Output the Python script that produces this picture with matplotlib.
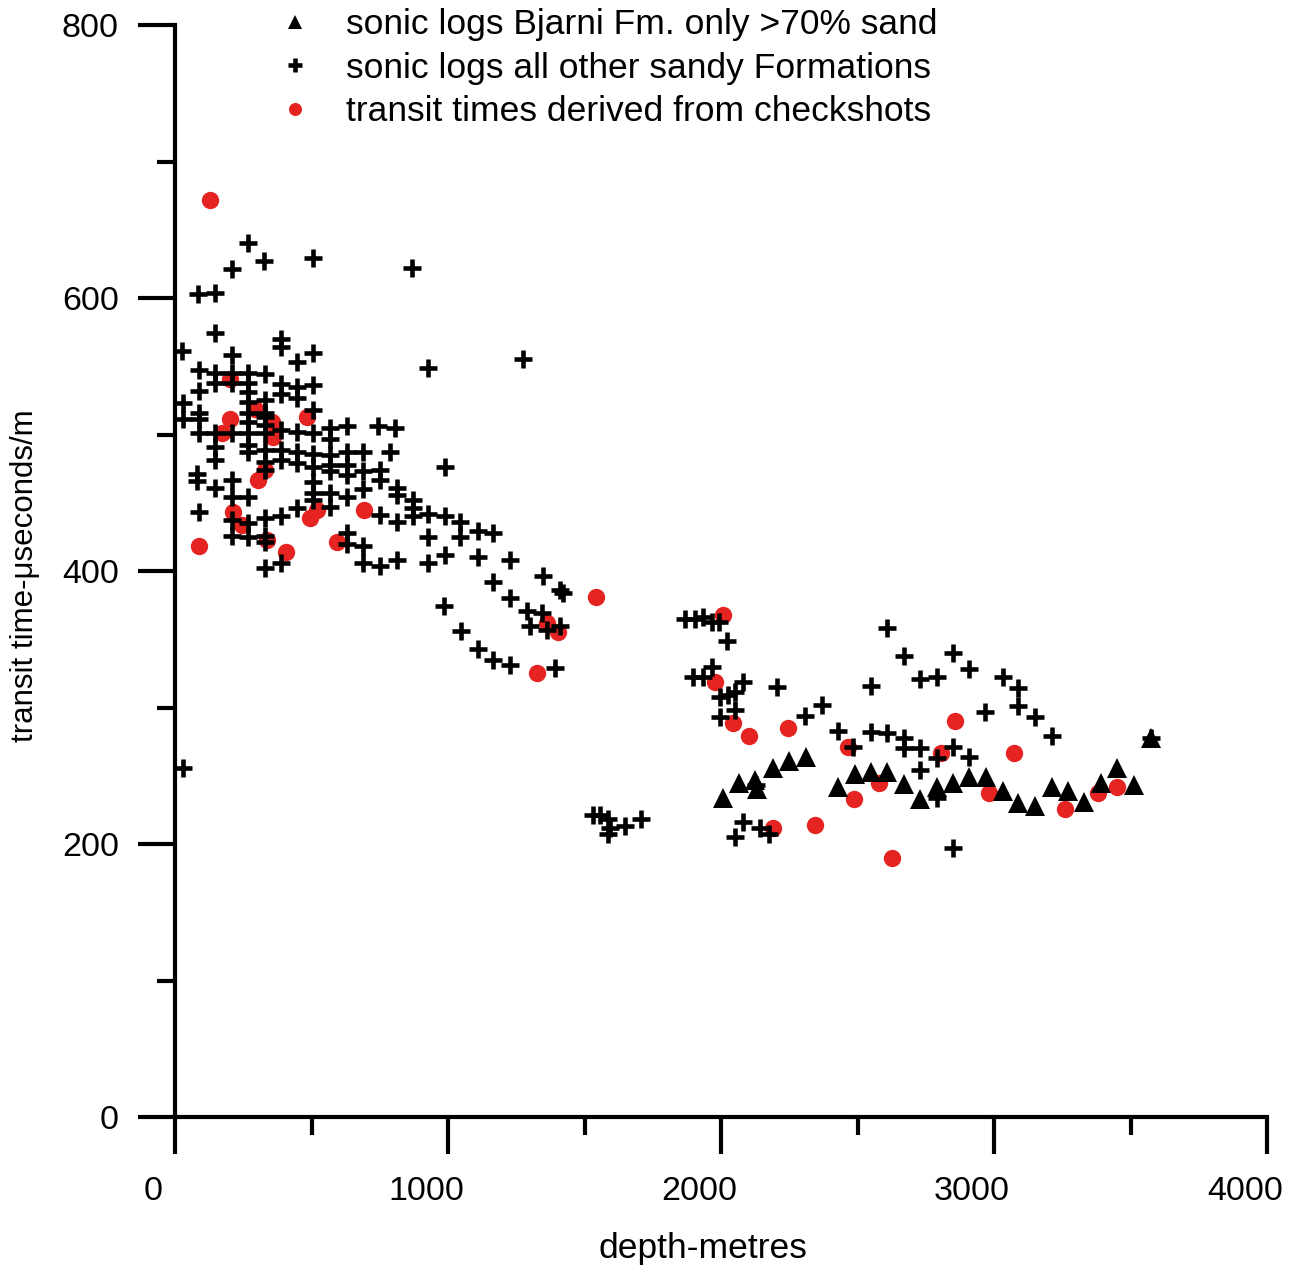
import numpy as np
import matplotlib
matplotlib.use("Agg")
import matplotlib.pyplot as plt
from matplotlib.transforms import ScaledTranslation

plt.rcParams['font.family'] = ['Liberation Sans', 'DejaVu Sans']

# transit times derived from checkshots (red dots)
check_depth = [130, 201, 293, 355, 484, 201, 172, 359, 330, 304, 212, 245, 520, 495,
               692, 88, 337, 407, 593, 1542, 1363, 1403, 1326, 2007, 1978, 2044, 2103,
               2245, 2465, 2487, 2190, 2344, 2579, 2857, 2806, 2982, 2626, 3073, 3260,
               3381, 3451]
check_tt = [672, 541, 519, 509, 513, 511, 501, 498, 474, 467, 443, 434, 445, 439,
            445, 418, 423, 414, 421, 381, 362, 355, 325, 368, 319, 289, 279,
            285, 271, 233, 212, 214, 245, 290, 267, 237, 190, 267, 226,
            237, 242]

# sonic logs, Bjarni Fm. only >70% sand (triangles)
bjarni_depth = [2007, 2066, 2125, 2132, 2190, 2249, 2311, 2429, 2491, 2549, 2608, 2670,
                2729, 2791, 2850, 2908, 2971, 3033, 3088, 3150, 3212, 3271, 3330, 3392,
                3451, 3513, 3575]
bjarni_tt = [234, 245, 247, 240, 256, 261, 264, 242, 251, 253, 253, 244,
             233, 242, 245, 249, 249, 239, 230, 228, 242, 239, 231, 245,
             256, 243, 278]

# sonic logs, all other sandy formations (plus signs)
other_depth = [267, 326, 505, 868, 209, 84, 147, 147, 25, 388, 388, 505, 447, 209, 927,
               88, 147, 209, 267, 330, 88, 147, 209, 267, 267, 388, 388, 447, 447, 505,
               29, 267, 330, 88, 29, 505, 267, 330, 88, 267, 330, 630, 744, 806, 568,
               88, 147, 209, 267, 330, 388, 447, 505,
               147, 147, 267, 267, 330, 330, 330, 330, 388, 388, 447, 447,
               505, 505, 505, 505, 505, 568, 568, 568, 568, 568, 568,
               630, 630, 630, 630, 630, 630, 689, 689, 689, 689, 689,
               751, 751, 751, 751, 788, 813, 813, 813, 813, 870, 870, 870,
               927, 927, 927, 989, 989, 989, 1045, 1045, 81, 81,
               147, 209, 209, 267, 88, 209, 209, 267, 267, 330, 330, 330, 388, 447, 330, 388,
               1275, 1110, 1165, 985, 1110, 1227, 1165, 1348, 1410, 1421, 1227, 1289, 1344,
               1300, 1363, 1410, 1048, 1110, 1165, 1227, 1392,
               1868, 1905, 1934, 1967, 1993, 2022, 1897, 1934, 1967, 2081, 2205, 1996, 2026,
               2051, 1996, 2051, 2308, 2370, 2429, 2484, 2130, 1531, 1557, 1586, 1593, 1586,
               1648, 1707, 2081, 2051, 2143, 2176,
               2608, 2670, 2850, 2908, 2729, 2791, 3033, 2549, 2967, 2549, 2608, 2670, 2670,
               2729, 2850, 2908, 2791, 2729, 2791, 2850,
               3088, 3088, 3150, 3212, 3575, 29]
other_tt = [640, 627, 629, 622, 621, 603, 604, 574, 561, 570, 564, 560, 553, 558, 549,
            547, 545, 545, 545, 544, 532, 538, 538, 538, 531, 537, 530, 535, 527, 536,
            523, 524, 525, 516, 511, 518, 516, 516, 511, 509, 507, 506, 506, 505, 505,
            501, 501, 501, 501, 501, 503, 502, 501,
            491, 481, 492, 487, 513, 489, 480, 474, 489, 481, 487, 479,
            486, 476, 465, 457, 452, 497, 485, 478, 473, 457, 447,
            487, 478, 470, 454, 428, 420, 487, 473, 460, 418, 406,
            474, 467, 441, 404, 487, 461, 456, 436, 408, 452, 446, 440,
            442, 425, 406, 476, 440, 412, 436, 425, 471, 466,
            461, 467, 454, 454, 443, 437, 426, 435, 425, 439, 426, 421, 440, 446, 402, 406,
            555, 429, 428, 374, 410, 408, 392, 396, 386, 384, 380, 371, 369,
            360, 357, 360, 356, 343, 335, 331, 329,
            365, 365, 366, 363, 363, 349, 322, 322, 330, 319, 315, 308, 309,
            311, 293, 298, 294, 302, 283, 271, 243, 221, 221, 218, 212, 207,
            213, 218, 216, 205, 212, 207,
            358, 338, 340, 328, 321, 322, 322, 316, 297, 282, 281, 278, 270,
            270, 271, 264, 263, 254, 234, 197,
            314, 301, 293, 279, 278, 256]

x_major = [0, 1000, 2000, 3000, 4000]
x_minor = [500, 1500, 2500, 3500]
y_major = [0, 200, 400, 600, 800]
y_minor = [100, 300, 500, 700]

fig = plt.figure(figsize=(13.04, 12.70), dpi=100)
ax = fig.add_axes([175 / 1304, 153 / 1270, 1092 / 1304, 1092 / 1270])

red = '#e52421'
ax.plot(check_depth, check_tt, 'o', color=red, markersize=12.5, markeredgewidth=0,
        label='transit times derived from checkshots', zorder=3)
ax.plot(bjarni_depth, bjarni_tt, '^', color='black', markersize=14, markeredgewidth=0,
        label='sonic logs Bjarni Fm. only >70% sand', zorder=4)
ax.plot(other_depth, other_tt, '+', color='black', markersize=13, markeredgewidth=3.3,
        label='sonic logs all other sandy Formations', zorder=5)

ax.set_xlim(0, 4000)
ax.set_ylim(0, 800)
ax.set_xticks(x_major)
ax.set_xticks(x_minor, minor=True)
ax.set_yticks(y_major)
ax.set_yticks(y_minor, minor=True)

for side in ['top', 'right']:
    ax.spines[side].set_visible(False)
for side in ['left', 'bottom']:
    ax.spines[side].set_linewidth(3)

ax.tick_params(which='major', direction='out', length=26.5, width=3, labelsize=24.5, pad=16)
ax.tick_params(which='minor', direction='out', length=13, width=3)
ax.tick_params(axis='y', which='major', pad=14)

# x tick labels sit a bit left of their ticks in the original
shift = ScaledTranslation(-0.22, 0, fig.dpi_scale_trans)
for lbl in ax.get_xticklabels():
    lbl.set_transform(lbl.get_transform() + shift)

ax.set_xlabel('depth-metres', fontsize=25.5, va='center')
ax.xaxis.set_label_coords(0.4835, -0.12)
ax.set_ylabel('transit time-\u03bcseconds/m', fontsize=22.5, va='center')
ax.yaxis.set_label_coords(-0.137, 0.496)

h, l = ax.get_legend_handles_labels()
order = [1, 2, 0]
leg = ax.legend([h[i] for i in order], [l[i] for i in order], loc='upper left',
                bbox_to_anchor=(277 / 1304, 1 - 8 / 1270), bbox_transform=fig.transFigure,
                frameon=False, fontsize=25.5, markerscale=0.75, handlelength=1.0,
                handletextpad=0.95, labelspacing=0.3, borderpad=0.0, borderaxespad=0.0)

fig.savefig('out.png', dpi=100)
